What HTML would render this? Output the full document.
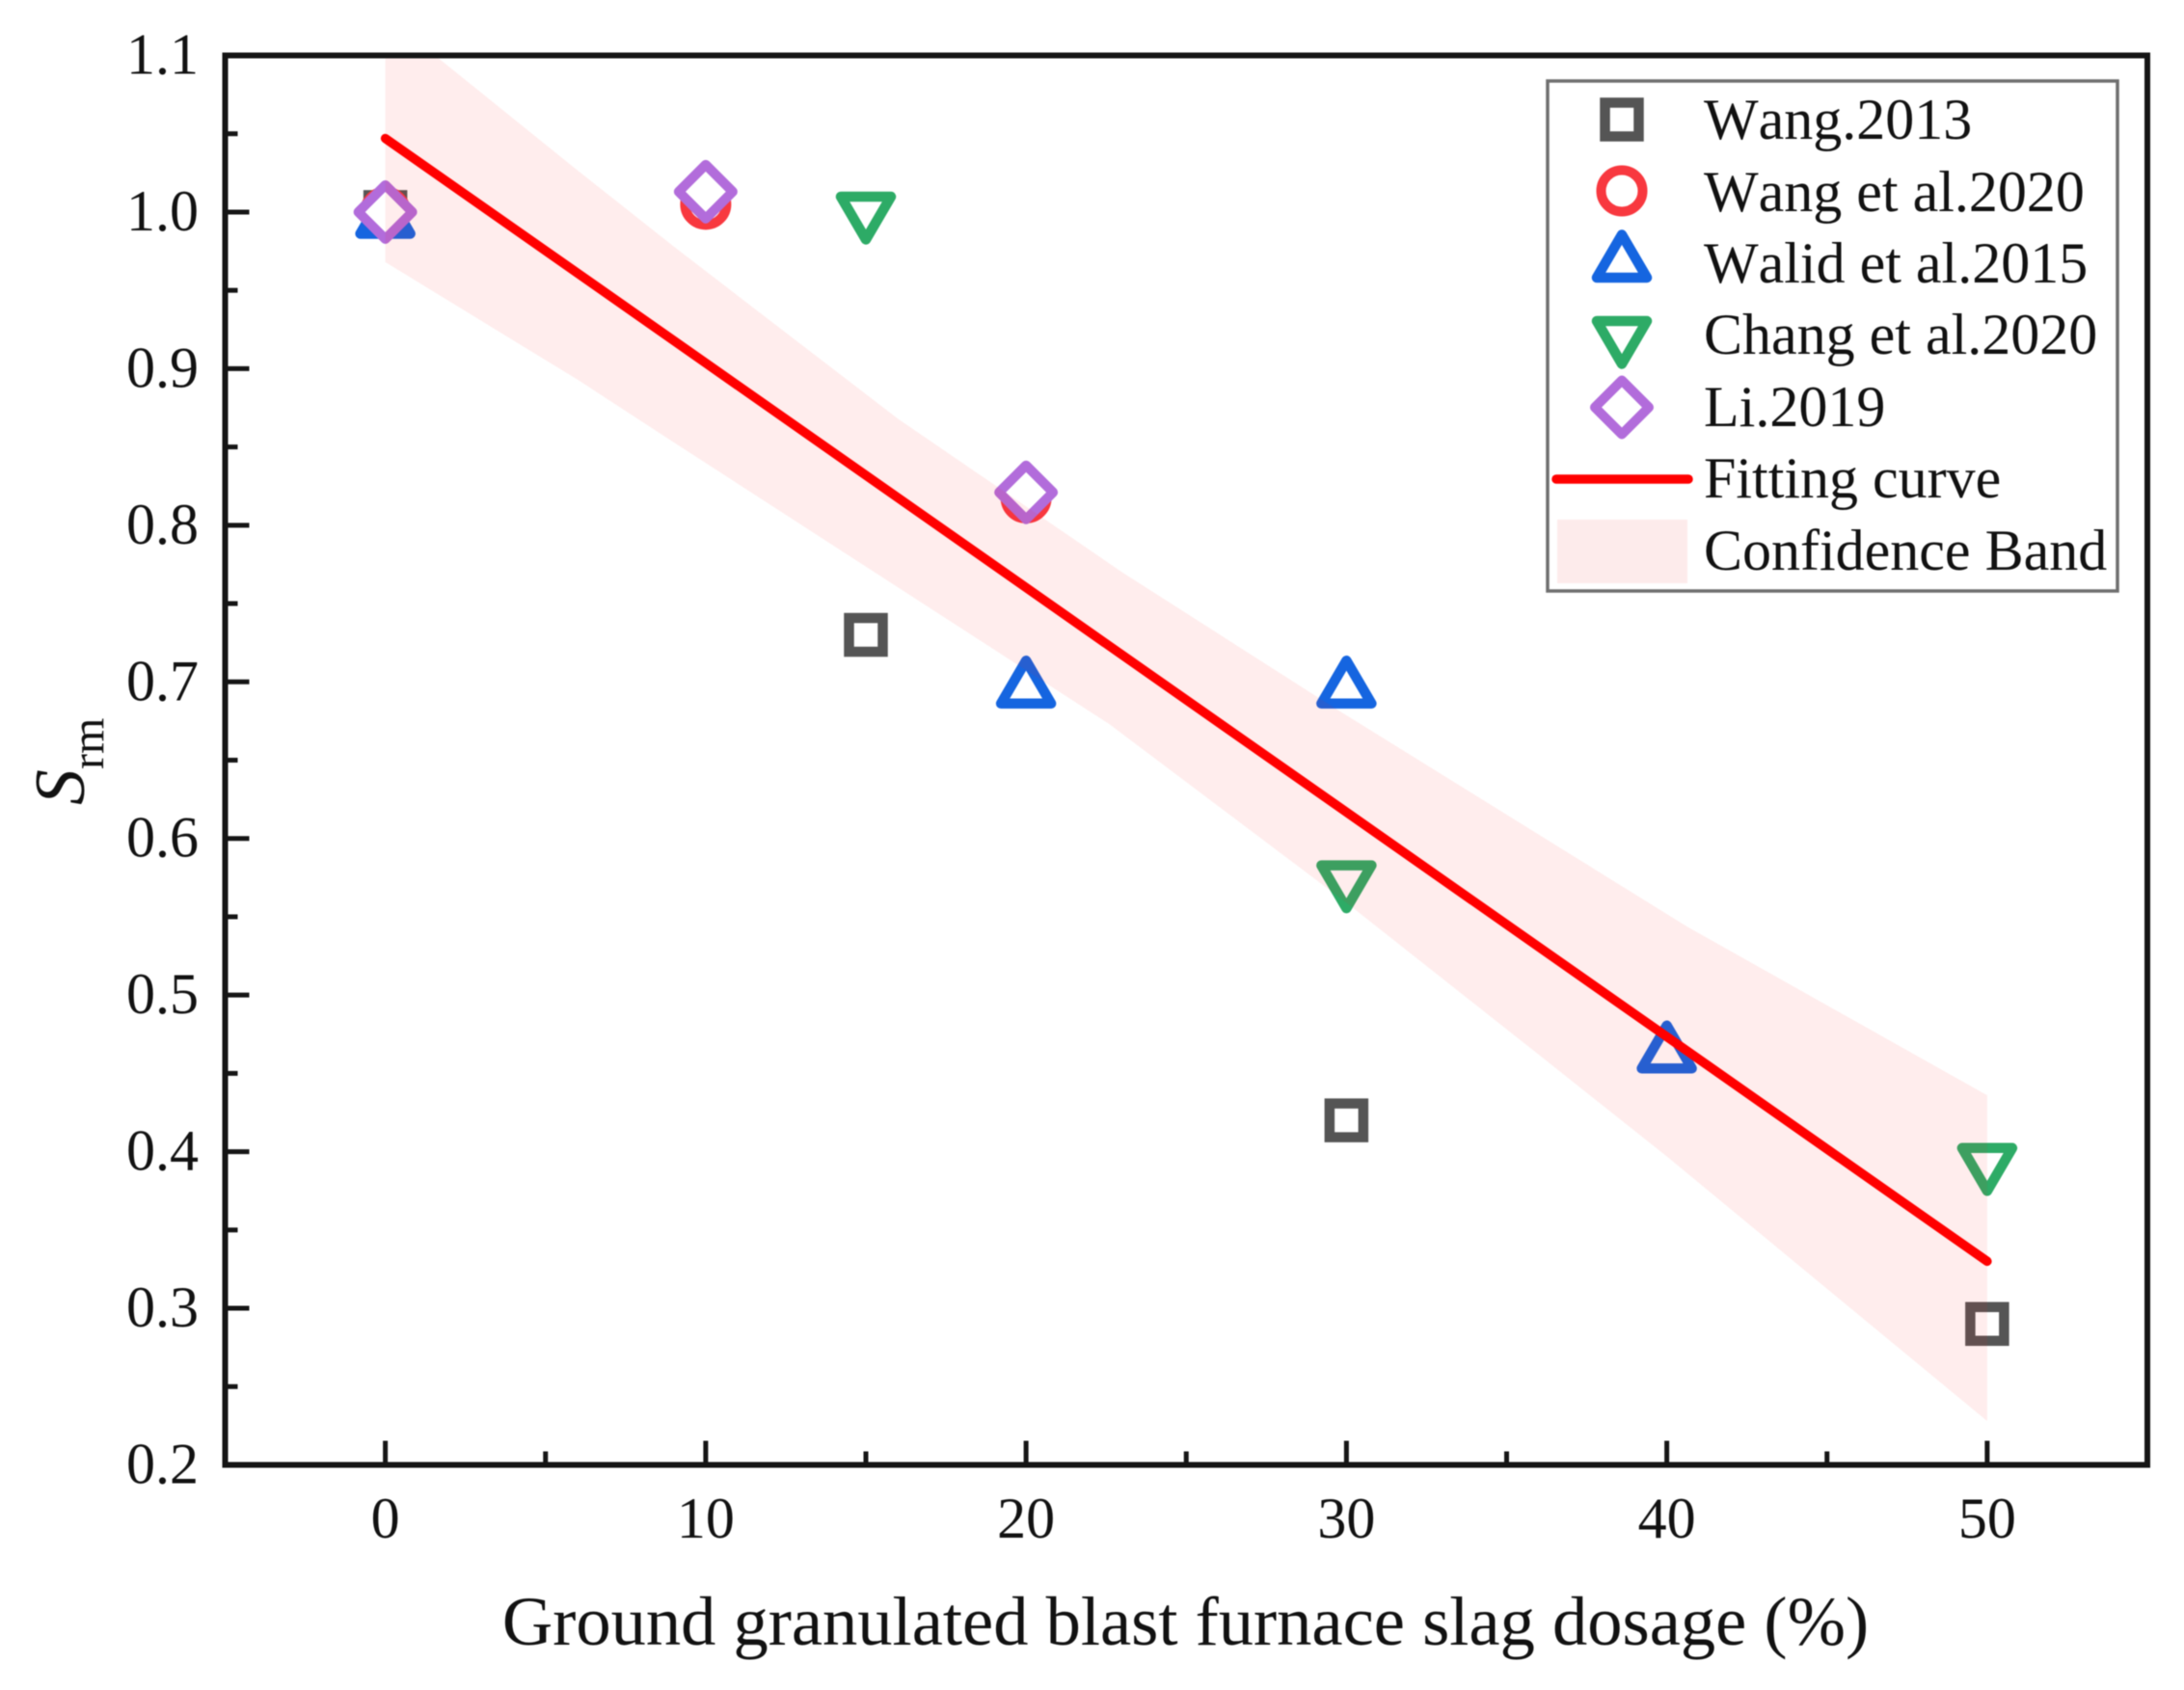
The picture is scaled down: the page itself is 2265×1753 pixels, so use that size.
<!DOCTYPE html>
<html>
<head>
<meta charset="utf-8">
<title>Srm vs GGBS dosage</title>
<style>
html,body{margin:0;padding:0;background:#fff;}
svg{display:block;filter:blur(0.6px);}
text{font-family:"Liberation Serif","Times New Roman",serif;fill:#111;font-kerning:none;}
</style>
</head>
<body>
<svg id="chart" xmlns="http://www.w3.org/2000/svg" width="2265" height="1753" viewBox="0 0 2265 1753">
  <rect x="0" y="0" width="2265" height="1753" fill="#fff"/>
  <defs>
    <clipPath id="plot-clip"><rect x="233.5" y="57.5" width="1993.5" height="1462"/></clipPath>
  </defs>
  <g id="markers"></g>
  <path id="band" clip-path="url(#plot-clip)" fill="rgb(255,30,30)" fill-opacity="0.08"/>
  <path id="fit" fill="none" stroke="#ff0000" stroke-width="9.5" stroke-linecap="round"/>
  <g id="axes" stroke="#151515"></g>
  <g id="xticklabels" font-size="60" text-anchor="middle"></g>
  <g id="yticklabels" font-size="60" text-anchor="end"></g>
  <text x="1229.5" y="1706" font-size="72.5" text-anchor="middle">Ground granulated blast furnace slag dosage (%)</text>
  <text transform="translate(87,835) rotate(-90)" font-size="74"><tspan font-style="italic">S</tspan><tspan font-size="48" dy="20">rm</tspan></text>
  <g id="legend">
    <rect x="1605" y="84" width="591" height="529" fill="#fff" stroke="#6f6f6f" stroke-width="3.5"/>
    <g id="legend-symbols"></g>
    <line x1="1614" y1="497" x2="1751" y2="497" stroke="#ff0000" stroke-width="9.5" stroke-linecap="round"/>
    <rect x="1615" y="539" width="135" height="66" fill="#fdebeb"/>
    <g font-size="60">
      <text x="1767" y="144">Wang.2013</text>
      <text x="1767" y="219">Wang et al.2020</text>
      <text x="1767" y="293">Walid et al.2015</text>
      <text x="1767" y="367">Chang et al.2020</text>
      <text x="1767" y="442">Li.2019</text>
      <text x="1767" y="516">Fitting curve</text>
      <text x="1767" y="591">Confidence Band</text>
    </g>
  </g>
</svg>
<script>
var xTicks = [0, 10, 20, 30, 40, 50];
var xMinorTicks = [5, 15, 25, 35, 45];
var yTicks = ['0.2', '0.3', '0.4', '0.5', '0.6', '0.7', '0.8', '0.9', '1.0', '1.1'];
var yMinorTicks = [0.25, 0.35, 0.45, 0.55, 0.65, 0.75, 0.85, 0.95, 1.05];

var wang2013X = [0, 15, 30, 50];
var wang2013Y = [1.0, 0.73, 0.42, 0.29];
var wang2020X = [0, 10, 20];
var wang2020Y = [1.0, 1.005, 0.8175];
var walid2015X = [0, 20, 30, 40];
var walid2015Y = [1.0, 0.70, 0.70, 0.467];
var chang2020X = [15, 30, 50];
var chang2020Y = [0.996, 0.569, 0.3885];
var li2019X = [0, 10, 20];
var li2019Y = [1.0, 1.013, 0.821];

var fitX = [0, 50];
var fitY = [1.047, 0.33];
var bandUpperX = [0, 1.55, 6, 9, 16, 23, 29.5, 40.65, 50];
var bandUpperY = [1.125, 1.1, 1.0266, 0.978, 0.868, 0.77, 0.685, 0.5435, 0.436];
var bandLowerX = [0, 6, 9, 22.6, 30, 36, 40, 50];
var bandLowerY = [0.968, 0.893, 0.853, 0.673, 0.559, 0.462, 0.397, 0.228];

var PX0 = 233.5, PX1 = 2227, PY0 = 1519.5, PY1 = 57.5;
function sx(v){ return PX0 + (v + 5) / 60 * (PX1 - PX0); }
function sy(v){ return PY0 - (v - 0.2) / 0.9 * (PY0 - PY1); }
var NS = 'http://www.w3.org/2000/svg';
function mk(tag, parent, attrs){
  var el = document.createElementNS(NS, tag);
  for (var k in attrs) el.setAttribute(k, attrs[k]);
  parent.appendChild(el);
  return el;
}
var GREY = '#555555', RED = '#f8383f', BLUE = '#1565e0', GREEN = '#2dab66', PURPLE = '#b26cdb';

function drawSquare(parent, cx, cy){
  var el = mk('rect', parent, {x: cx - 17.5, y: cy - 17.5, width: 35, height: 35, fill: '#fff', stroke: GREY, 'stroke-width': 10.5});
  
  
}
function drawCircle(parent, cx, cy){
  var el = mk('circle', parent, {cx: cx, cy: cy, r: 21.5, fill: '#fff', stroke: RED, 'stroke-width': 10});
  
  
}
function drawUp(parent, cx, cy){
  var d = 'M' + cx + ' ' + (cy - 22) + 'L' + (cx + 26) + ' ' + (cy + 22.5) + 'L' + (cx - 26) + ' ' + (cy + 22.5) + 'Z';
  var el = mk('path', parent, {d: d, fill: '#fff', stroke: BLUE, 'stroke-width': 10.5, 'stroke-linejoin': 'round'});
  
  
}
function drawDown(parent, cx, cy){
  var d = 'M' + cx + ' ' + (cy + 22) + 'L' + (cx + 26) + ' ' + (cy - 22.5) + 'L' + (cx - 26) + ' ' + (cy - 22.5) + 'Z';
  var el = mk('path', parent, {d: d, fill: '#fff', stroke: GREEN, 'stroke-width': 10.5, 'stroke-linejoin': 'round'});
  
  
}
function drawDiamond(parent, cx, cy){
  var r = 28;
  var d = 'M' + cx + ' ' + (cy - r) + 'L' + (cx + r) + ' ' + cy + 'L' + cx + ' ' + (cy + r) + 'L' + (cx - r) + ' ' + cy + 'Z';
  var el = mk('path', parent, {d: d, fill: '#fff', stroke: PURPLE, 'stroke-width': 10, 'stroke-linejoin': 'round'});
  
  
}

var markers = document.getElementById('markers');
function plotSeries(xs, ys, draw){
  for (var i = 0; i < xs.length; i++) draw(markers, sx(xs[i]), sy(ys[i]));
}
plotSeries(wang2013X, wang2013Y, drawSquare);
plotSeries(wang2020X, wang2020Y, drawCircle);
plotSeries(walid2015X, walid2015Y, drawUp);
plotSeries(chang2020X, chang2020Y, drawDown);
plotSeries(li2019X, li2019Y, drawDiamond);

var bandPath = '';
for (var i = 0; i < bandUpperX.length; i++) {
  bandPath += (i ? 'L' : 'M') + sx(bandUpperX[i]) + ' ' + sy(bandUpperY[i]);
}
for (var j = bandLowerX.length - 1; j >= 0; j--) {
  bandPath += 'L' + sx(bandLowerX[j]) + ' ' + sy(bandLowerY[j]);
}
document.getElementById('band').setAttribute('d', bandPath + 'Z');

var fitPath = '';
for (var f = 0; f < fitX.length; f++) {
  fitPath += (f ? 'L' : 'M') + sx(fitX[f]) + ' ' + sy(fitY[f]);
}
document.getElementById('fit').setAttribute('d', fitPath);

var axes = document.getElementById('axes');
var frame = mk('rect', axes, {x: PX0, y: PY1, width: PX1 - PX0, height: PY0 - PY1, fill: 'none', 'stroke-width': 6});



xTicks.forEach(function(v){
  var x = sx(v);
  var t = mk('line', axes, {x1: x, x2: x, y1: PY0, y2: PY0 - 25, 'stroke-width': 5});
  
  
  var l = mk('text', document.getElementById('xticklabels'), {x: x, y: 1595});
  
  
  l.textContent = String(v);
});
xMinorTicks.forEach(function(v){
  var x = sx(v);
  var t = mk('line', axes, {x1: x, x2: x, y1: PY0, y2: PY0 - 14, 'stroke-width': 5});
  
  
});
yTicks.forEach(function(s){
  var y = sy(parseFloat(s));
  var t = mk('line', axes, {x1: PX0, x2: PX0 + 25, y1: y, y2: y, 'stroke-width': 5});
  
  
  var l = mk('text', document.getElementById('yticklabels'), {x: 206, y: y + 19});
  
  
  l.textContent = s;
});
yMinorTicks.forEach(function(v){
  var y = sy(v);
  var t = mk('line', axes, {x1: PX0, x2: PX0 + 13, y1: y, y2: y, 'stroke-width': 5});
  
  
});

var legendSymbols = document.getElementById('legend-symbols');
drawSquare(legendSymbols, 1682, 124);
drawCircle(legendSymbols, 1682, 198);
drawUp(legendSymbols, 1682, 265.5);
drawDown(legendSymbols, 1682, 355.5);
drawDiamond(legendSymbols, 1682, 422.5);
</script>
</body>
</html>
